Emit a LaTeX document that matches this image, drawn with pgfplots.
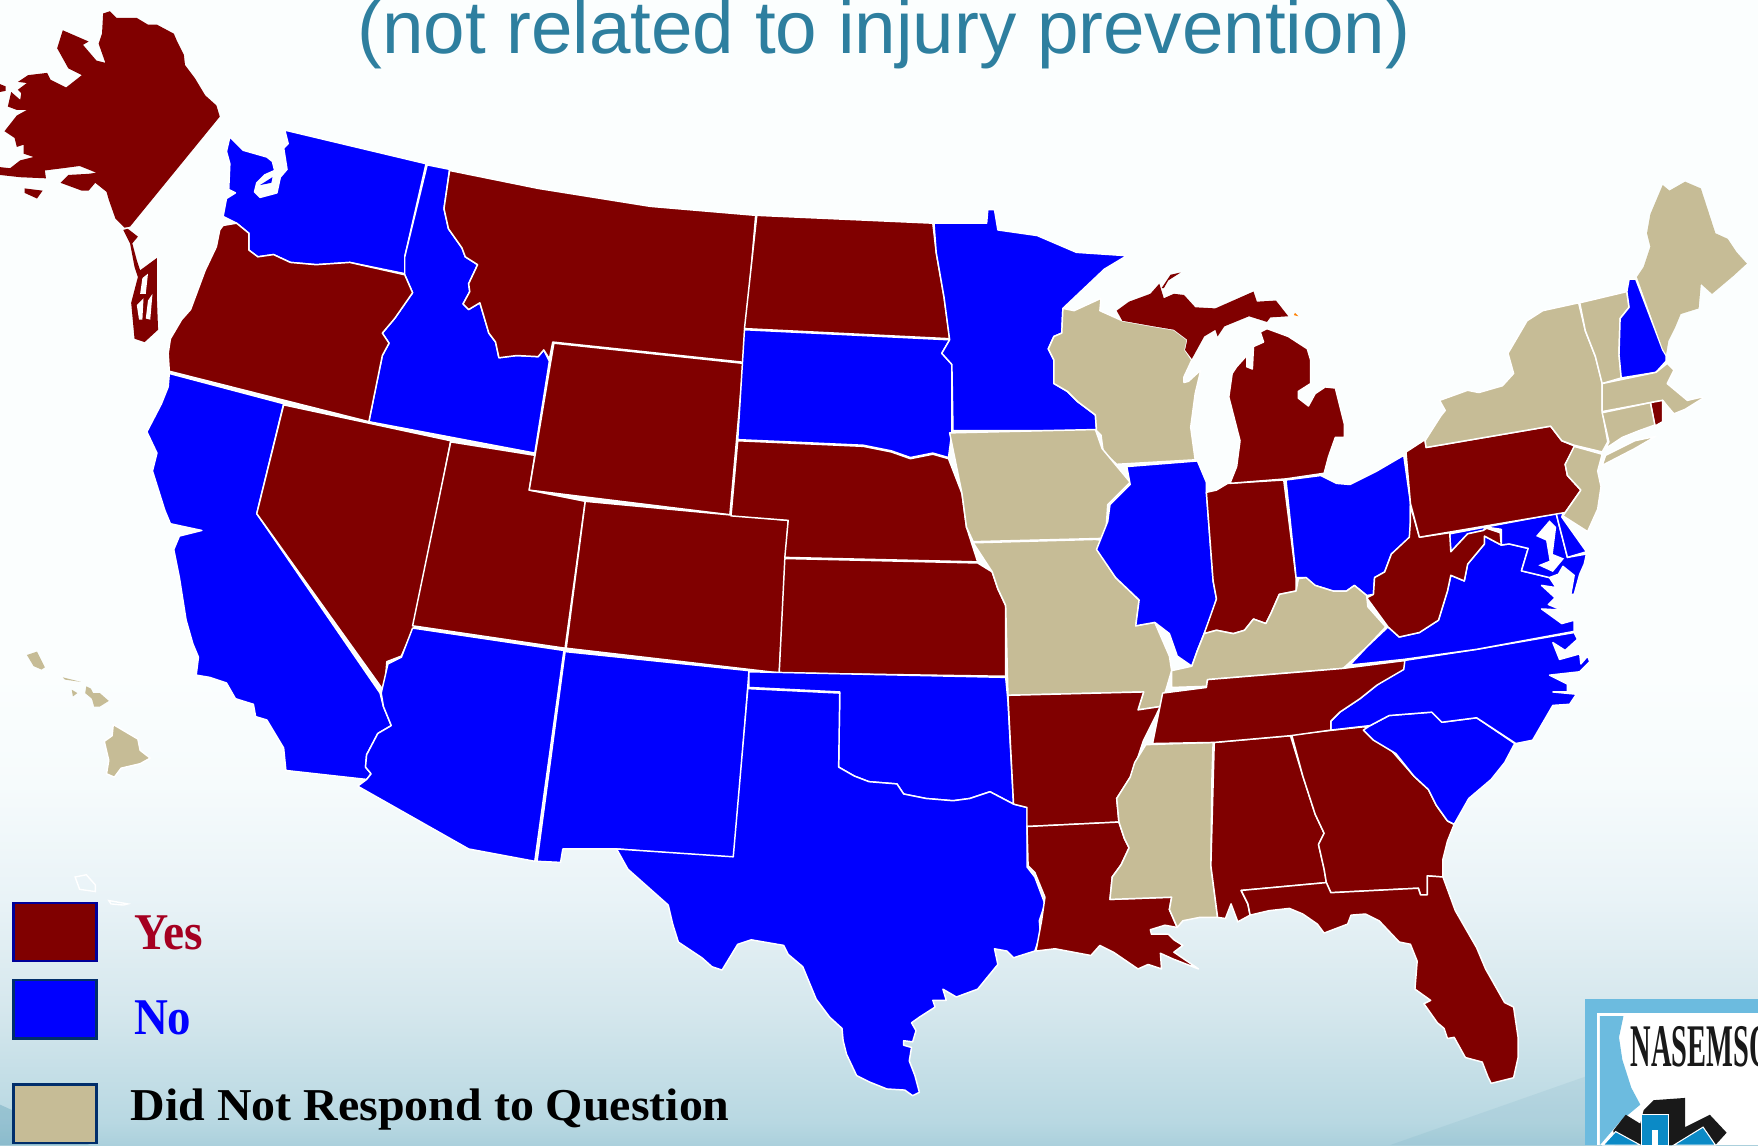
\documentclass[border=0pt]{standalone}
\usepackage{graphicx}
\usepackage{fontspec}
\setmainfont{Liberation Serif}
\newfontfamily\titlefont{Liberation Sans}
\usepackage{pgfplots}
\pgfplotsset{compat=1.18}
\definecolor{yescol}{HTML}{800000}
\definecolor{nocol}{HTML}{0000FF}
\definecolor{dnrcol}{HTML}{C6BC96}
\definecolor{titlecol}{HTML}{2E7F9F}
\definecolor{yestxt}{HTML}{A50021}
\definecolor{logoblue}{HTML}{6CBBDF}
\definecolor{logoblue2}{HTML}{0B8AC6}
\definecolor{bg0}{HTML}{ABD0DC}
\definecolor{bg1}{HTML}{B8D8E2}
\definecolor{bg2}{HTML}{D5E7ED}
\definecolor{bg3}{HTML}{E9F3F7}
\definecolor{bg4}{HTML}{F6FBFC}
\definecolor{bg5}{HTML}{FBFEFE}
\pgfdeclareverticalshading{slidebg}{100bp}{
  color(0bp)=(bg0);
  color(25bp)=(bg0); color(26bp)=(bg1); color(30.9bp)=(bg2);
  color(35.8bp)=(bg3); color(40.7bp)=(bg4); color(45.6bp)=(bg5);
  color(75bp)=(bg5); color(100bp)=(bg5)}
\pgfplotsset{
  yes/.style={fill=yescol,draw=white,line width=.42pt,line join=round},
  no/.style={fill=nocol,draw=white,line width=.42pt,line join=round},
  dnr/.style={fill=dnrcol,draw=white,line width=.42pt,line join=round},
  wat/.style={fill=white,draw=none},
}
\begin{document}
\begin{tikzpicture}
\path[use as bounding box] (0,0) rectangle (17.58cm,11.45cm);
\clip (0,0) rectangle (17.58cm,11.45cm);
\shade[shading=slidebg] (0,0) rectangle (17.58cm,11.45cm);
\begin{axis}[
  at={(0,0)},anchor=south west,
  scale only axis,width=17.58cm,height=11.45cm,
  xmin=0,xmax=1568,ymin=0,ymax=1021,y dir=reverse,
  hide axis,
]
% background swooshes
\addplot[fill=titlecol,draw=none,opacity=.25] coordinates {(0,985)(80,1021)(0,1021)} --cycle;
\addplot[fill=titlecol,draw=none,opacity=.08] coordinates {(1240,1021)(1414,960)(1414,1021)} --cycle;
% Alaska
\addplot[yes,draw=none] coordinates {(98,10)(104,16)(122,16)(132,22)(140,22)(155,30)(158,37)(164,49)(165,58)(174,70)(183,85)(193,94)(196,104)(116,202)(111,203)(103,195)(97,178)(95,171)(85,163)(79,170)(73,170)(54,163)(61,156)(79,155)(86,154)(71,148)(56,150)(40,152)(41,159)(18,158)(0,156)(0,149)(9,150)(18,143)(30,140)(21,137)(21,129)(15,131)(13,123)(4,117)(15,103)(24,98)(15,98)(7,95)(10,82)(18,89)(19,83)(16,80)(24,74)(16,73)(25,67)(42,65)(45,71)(59,78)(73,67)(61,61)(51,43)(56,27)(79,37)(74,40)(86,54)(94,56)(88,39)(91,30)(92,12)} --cycle;
\addplot[yes,draw=none] coordinates {(0,75)(5,77)(5,81)(0,82)} --cycle;
\addplot[yes,draw=none] coordinates {(22,168)(38,170)(33,177)(22,172)} --cycle;
\addplot[yes,draw=none] coordinates {(114,204)(123,211)(118,217)(122,232)(125,241)(140,230)(140,268)(141,294)(129,305)(120,302)(117,270)(123,247)(120,238)(116,217)(110,205)} --cycle;
\addplot[wat] coordinates {(127,248)(132,244)(130,262)(125,262)} --cycle;
\addplot[wat] coordinates {(122,272)(128,266)(127,285)(124,285)} --cycle;
\addplot[wat] coordinates {(132,268)(136,262)(134,285)(130,284)} --cycle;
% Hawaii
\addplot[dnr,draw=none] coordinates {(24,584)(33,581)(40,595)(37,597)(30,594)} --cycle;
\addplot[dnr,draw=none] coordinates {(56,604)(72,608)(58,606)} --cycle;
\addplot[dnr,draw=none] coordinates {(64,615)(69,618)(65,621)} --cycle;
\addplot[dnr,draw=none] coordinates {(77,612)(81,614)(83,618)(89,618)(97,625)(89,630)(84,630)(82,623)(76,618)} --cycle;
\addplot[dnr] coordinates {(101,646)(123,659)(125,669)(134,676)(125,681)(108,685)(102,693)(95,690)(97,678)(93,661)(100,656)} --cycle;
\addplot[fill=none,draw=white,line width=.4pt] coordinates {(67,782)(77,780)(85,789)(85,795)(71,793)} --cycle;
\addplot[fill=none,draw=white,line width=.4pt] coordinates {(97,803)(114,806)(110,807)(99,806)} --cycle;
% West
\addplot[no] coordinates {(205,122)(217,134)(238,140)(243,144)(245,152)(236,156)(229,163)(227,171)(232,176)(247,172)(250,158)(256,151)(253,132)(257,128)(254,116)(380,146)(361,229)(361,244)(312,234)(282,236)(259,234)(244,227)(230,229)(222,223)(222,208)(211,199)(199,193)(202,177)(210,172)(204,169)(205,146)(202,135)} --cycle;
\addplot[no,draw=none] coordinates {(243,158)(232,165)(242,163)} --cycle;
\addplot[no] coordinates {(381,147)(401,151)(396,186)(400,204)(412,221)(415,229)(426,236)(418,253)(419,260)(413,271)(418,276)(428,270)(436,297)(442,305)(445,319)(461,317)(480,318)(485,312)(490,322)(477,404)(329,376)(341,317)(347,306)(341,297)(352,284)(368,261)(361,245)(361,229)} --cycle;
\addplot[yes] coordinates {(199,201)(211,199)(222,208)(222,223)(230,229)(244,227)(259,234)(282,236)(312,234)(361,245)(368,261)(352,284)(341,297)(347,306)(341,317)(329,376)(151,331)(150,315)(152,302)(162,285)(170,276)(183,241)(193,220)(196,205)} --cycle;
\addplot[no] coordinates {(151,333)(253,360)(229,458)(339,618)(342,630)(349,647)(337,654)(327,673)(326,684)(331,690)(327,695)(255,687)(253,667)(238,642)(228,639)(226,628)(210,623)(202,609)(187,604)(175,602)(177,586)(172,574)(166,553)(160,515)(155,490)(160,478)(180,473)(152,467)(147,455)(136,420)(140,404)(131,385)(144,360)(150,345)} --cycle;
\addplot[yes] coordinates {(253,361)(402,393)(370,558)(358,585)(345,590)(343,617)(229,458)} --cycle;
\addplot[yes] coordinates {(402,394)(477,406)(472,437)(522,447)(504,578)(368,558)} --cycle;
\addplot[no] coordinates {(368,560)(503,580)(477,768)(418,757)(319,701)(327,695)(331,690)(326,684)(327,673)(337,654)(349,647)(342,630)(340,618)(346,592)(358,586)} --cycle;
\addplot[no] coordinates {(504,581)(668,598)(667,612)(655,765)(550,757)(502,757)(500,769)(479,768)} --cycle;
\addplot[yes] coordinates {(401,152)(480,168)(580,184)(674,192)(663,323)(493,305)(490,320)(485,312)(480,318)(461,317)(445,319)(442,305)(436,297)(428,270)(418,276)(413,271)(419,260)(418,253)(426,236)(415,229)(412,221)(400,204)(396,186)} --cycle;
\addplot[yes] coordinates {(494,306)(663,324)(651,459)(472,437)} --cycle;
\addplot[yes] coordinates {(522,447)(703,464)(695,600)(505,578)} --cycle;
% Plains
\addplot[yes] coordinates {(675,192)(832,199)(835,225)(842,265)(847,302)(664,293)} --cycle;
\addplot[no] coordinates {(664,294)(847,303)(840,315)(849,325)(849,385)(846,408)(832,404)(812,408)(795,402)(770,397)(658,392)} --cycle;
\addplot[yes] coordinates {(658,393)(770,398)(795,403)(812,409)(832,405)(846,409)(858,440)(862,470)(872,501)(700,497)(703,464)(652,460)} --cycle;
\addplot[yes] coordinates {(700,498)(872,502)(885,510)(890,525)(897,540)(897,603)(695,600)} --cycle;
\addplot[no] coordinates {(668,599)(897,604)(899,625)(904,717)(883,706)(865,712)(850,714)(826,712)(806,708)(800,699)(775,697)(762,692)(748,684)(749,617)(668,613)} --cycle;
\addplot[no] coordinates {(667,614)(749,618)(748,684)(762,692)(775,697)(800,699)(806,708)(826,712)(850,714)(865,712)(883,706)(904,717)(916,720)(916,773)(923,782)(932,806)(927,821)(928,833)(923,848)(904,854)(898,848)(887,846)(890,860)(881,871)(872,882)(853,889)(841,882)(844,892)(832,892)(834,898)(820,907)(813,912)(817,919)(814,929)(806,928)(806,932)(813,934)(811,946)(816,959)(820,974)(814,977)(807,972)(791,971)(776,965)(764,959)(755,940)(752,928)(751,917)(740,907)(728,891)(716,862)(703,851)(699,843)(670,838)(658,842)(644,865)(635,862)(626,854)(605,840)(600,824)(596,807)(578,791)(560,775)(550,757)(654,764)} --cycle;
% Upper midwest
\addplot[no] coordinates {(833,199)(880,199)(881,187)(887,187)(890,205)(925,210)(960,225)(1005,228)(985,240)(948,275)(947,297)(940,300)(935,311)(940,321)(940,342)(952,349)(961,358)(977,370)(978,384)(850,384)(849,325)(840,315)(847,303)(842,265)(835,225)} --cycle;
\addplot[dnr] coordinates {(948,275)(958,277)(982,266)(981,277)(1001,286)(1029,291)(1047,294)(1059,303)(1057,312)(1063,321)(1056,336)(1056,341)(1060,340)(1071,330)(1066,351)(1062,381)(1066,410)(996,414)(984,403)(982,388)(978,384)(977,370)(961,358)(952,349)(940,342)(940,321)(935,311)(940,300)(947,297)} --cycle;
\addplot[dnr] coordinates {(847,386)(977,383)(983,400)(1008,430)(988,450)(986,480)(868,483)(862,470)(858,440)} --cycle;
\addplot[dnr] coordinates {(868,484)(977,481)(985,482)(980,492)(995,515)(1016,535)(1013,558)(1030,555)(1043,585)(1045,598)(1040,615)(1035,630)(1015,633)(1020,617)(899,620)(897,540)(890,525)(885,510)} --cycle;
\addplot[no] coordinates {(1005,416)(1068,411)(1076,430)(1076,439)(1082,518)(1085,534)(1080,550)(1074,565)(1068,580)(1063,594)(1050,585)(1043,565)(1030,555)(1013,558)(1016,535)(995,515)(978,490)(988,465)(990,450)(1008,432)} --cycle;
\addplot[yes] coordinates {(1076,439)(1085,437)(1095,431)(1145,428)(1156,515)(1156,527)(1141,530)(1134,546)(1129,556)(1118,552)(1110,562)(1100,565)(1085,562)(1074,565)(1085,534)(1082,518)} --cycle;
\addplot[no] coordinates {(1147,428)(1178,424)(1192,431)(1204,432)(1228,420)(1252,406)(1258,448)(1258,479)(1241,494)(1235,510)(1226,515)(1225,530)(1219,531)(1208,522)(1201,527)(1189,527)(1173,522)(1164,515)(1156,515)} --cycle;
\addplot[yes] coordinates {(1097,431)(1147,427)(1181,422)(1185,407)(1191,390)(1199,390)(1199,378)(1191,346)(1182,345)(1173,351)(1167,362)(1158,355)(1158,349)(1169,342)(1169,321)(1166,311)(1149,300)(1130,293)(1124,296)(1127,305)(1118,309)(1117,329)(1112,327)(1112,317)(1103,327)(1099,333)(1096,354)(1106,393)(1103,416)} --cycle;
\addplot[yes,draw=none] coordinates {(996,277)(1007,269)(1026,262)(1034,253)(1038,266)(1047,262)(1056,263)(1066,274)(1084,275)(1118,260)(1121,269)(1138,268)(1149,282)(1133,283)(1130,287)(1114,282)(1092,291)(1086,300)(1084,294)(1074,300)(1063,320)(1057,312)(1059,303)(1047,294)(1029,291)(1001,286)} --cycle;
\addplot[yes,draw=none] coordinates {(1036,257)(1044,245)(1053,243)(1042,250)(1038,257)} --cycle;
\addplot[fill=orange,draw=none] coordinates {(1154,281)(1158,282)(1155,279)} --cycle;
% South
\addplot[yes] coordinates {(899,620)(1020,617)(1015,633)(1035,630)(1020,660)(1010,690)(996,712)(998,733)(916,737)(916,720)(904,717)} --cycle;
\addplot[yes] coordinates {(916,737)(998,733)(1003,748)(1007,756)(1000,771)(992,782)(990,802)(1045,800)(1043,811)(1050,827)(1039,825)(1026,829)(1027,833)(1042,833)(1047,838)(1055,843)(1047,849)(1069,864)(1046,855)(1035,850)(1036,864)(1024,860)(1015,864)(993,849)(981,843)(973,852)(941,846)(924,848)(929,821)(932,800)(923,778)(917,772)} --cycle;
\addplot[dnr] coordinates {(1022,664)(1082,662)(1081,692)(1080,772)(1086,818)(1070,818)(1055,821)(1050,827)(1043,811)(1045,800)(990,802)(992,782)(1000,771)(1007,756)(1003,748)(998,733)(996,712)(1008,693)(1012,680)} --cycle;
\addplot[yes] coordinates {(1083,662)(1151,656)(1162,692)(1173,726)(1181,743)(1176,753)(1181,775)(1183,787)(1107,794)(1113,806)(1115,816)(1104,822)(1098,806)(1093,819)(1086,818)(1080,772)} --cycle;
\addplot[yes] coordinates {(1152,655)(1217,648)(1240,668)(1261,692)(1274,704)(1281,718)(1291,732)(1297,735)(1291,750)(1287,766)(1287,782)(1273,781)(1273,798)(1267,798)(1265,792)(1187,796)(1183,787)(1181,775)(1176,753)(1181,743)(1173,726)(1162,692)} --cycle;
\addplot[yes] coordinates {(1107,794)(1183,787)(1187,796)(1265,792)(1267,798)(1273,798)(1273,781)(1287,782)(1298,812)(1317,845)(1325,864)(1342,894)(1350,898)(1354,925)(1354,943)(1350,961)(1330,966)(1327,960)(1322,947)(1307,943)(1297,925)(1291,926)(1288,917)(1282,912)(1270,895)(1276,892)(1262,882)(1264,857)(1258,842)(1248,840)(1230,821)(1218,815)(1205,816)(1202,824)(1181,832)(1175,824)(1162,815)(1150,810)(1132,812)(1115,816)(1113,806)} --cycle;
\addplot[no] coordinates {(1216,651)(1222,647)(1239,638)(1277,635)(1286,644)(1317,640)(1351,663)(1342,680)(1330,695)(1310,712)(1297,735)(1291,732)(1281,718)(1274,704)(1261,692)(1245,672)(1225,660)} --cycle;
\addplot[no] coordinates {(1187,651)(1187,643)(1195,635)(1213,623)(1228,611)(1245,598)(1252,589)(1317,579)(1404,564)(1407,570)(1396,580)(1385,573)(1391,588)(1409,583)(1410,592)(1416,585)(1418,590)(1409,599)(1382,602)(1398,610)(1398,617)(1385,617)(1406,619)(1400,628)(1385,629)(1367,660)(1352,663)(1317,640)(1286,644)(1277,635)(1239,638)(1222,647)} --cycle;
\addplot[dnr] coordinates {(1074,565)(1085,562)(1100,565)(1110,562)(1118,552)(1129,556)(1134,546)(1141,530)(1156,527)(1158,516)(1165,515)(1173,522)(1189,527)(1201,527)(1208,522)(1219,531)(1220,541)(1236,559)(1219,577)(1198,596)(1077,606)(1076,612)(1045,613)(1045,598)(1063,594)(1068,580)} --cycle;
\addplot[yes] coordinates {(1028,663)(1037,618)(1076,613)(1077,606)(1198,596)(1253,589)(1252,597)(1228,611)(1213,623)(1195,635)(1187,643)(1187,651)(1151,656)(1083,662)} --cycle;
% Mid-Atlantic
\addplot[no] coordinates {(1204,593)(1252,588)(1317,579)(1404,563)(1404,553)(1393,556)(1375,543)(1393,544)(1381,539)(1387,533)(1375,522)(1388,524)(1382,515)(1357,509)(1363,489)(1346,485)(1339,486)(1324,478)(1324,485)(1309,503)(1306,518)(1294,513)(1291,527)(1283,553)(1266,564)(1248,568)(1238,559)(1219,577)} --cycle;
\addplot[no] coordinates {(1293,476)(1388,458)(1398,497)(1415,494)(1413,503)(1409,512)(1404,530)(1401,530)(1404,513)(1394,505)(1390,512)(1382,515)(1357,509)(1363,489)(1346,485)(1339,486)(1339,472)(1325,470)(1323,473)(1309,476)(1294,492)} --cycle;
\addplot[wat] coordinates {(1382,464)(1370,478)(1379,482)(1382,500)(1372,504)(1385,510)(1395,498)(1385,494)(1388,470)} --cycle;
\addplot[no] coordinates {(1388,453)(1396,451)(1393,461)(1415,492)(1398,497)(1388,458)} --cycle;
\addplot[yes] coordinates {(1258,451)(1266,479)(1293,475)(1294,492)(1309,476)(1323,473)(1326,471)(1338,475)(1339,486)(1324,478)(1324,485)(1309,503)(1306,518)(1294,513)(1291,527)(1283,553)(1266,564)(1248,568)(1238,559)(1219,533)(1225,530)(1226,515)(1235,510)(1241,494)(1257,479)(1258,464)} --cycle;
\addplot[yes] coordinates {(1254,403)(1271,392)(1272,399)(1383,380)(1393,393)(1405,398)(1396,414)(1398,424)(1410,437)(1396,457)(1266,479)(1258,449)} --cycle;
\addplot[dnr] coordinates {(1404,398)(1429,405)(1425,420)(1428,434)(1425,454)(1416,474)(1394,460)(1410,437)(1398,424)(1396,414)} --cycle;
% Northeast
\addplot[dnr] coordinates {(1271,393)(1285,371)(1289,366)(1284,357)(1309,348)(1319,350)(1340,344)(1350,333)(1345,315)(1362,286)(1376,277)(1408,270)(1414,295)(1423,318)(1429,342)(1429,366)(1434,394)(1429,403)(1404,397)(1393,393)(1383,380)(1272,399)} --cycle;
\addplot[dnr] coordinates {(1432,406)(1458,393)(1477,389)(1458,400)(1429,415)} --cycle;
\addplot[dnr] coordinates {(1409,270)(1451,260)(1453,274)(1445,284)(1444,316)(1446,337)(1429,342)(1423,318)(1414,295)} --cycle;
\addplot[no] coordinates {(1453,249)(1459,249)(1483,312)(1486,317)(1486,322)(1477,332)(1446,337)(1444,316)(1445,284)(1453,274)(1451,260)} --cycle;
\addplot[dnr,draw=none] coordinates {(1460,247)(1466,238)(1472,220)(1469,208)(1472,191)(1483,165)(1489,170)(1503,162)(1517,168)(1530,208)(1541,213)(1549,225)(1558,235)(1546,246)(1527,262)(1517,253)(1515,275)(1499,280)(1494,292)(1488,304)(1486,316)(1483,311)} --cycle;
\addplot[dnr] coordinates {(1429,342)(1477,332)(1487,324)(1493,330)(1487,342)(1505,357)(1518,354)(1519,355)(1503,365)(1493,369)(1487,362)(1483,357)(1472,359)(1429,367)} --cycle;
\addplot[yes] coordinates {(1472,359)(1483,357)(1483,376)(1476,380)} --cycle;
\addplot[dnr] coordinates {(1429,368)(1472,359)(1476,379)(1462,384)(1447,390)(1432,400)(1435,394)} --cycle;
% legend
\addplot[fill=yescol,draw=blue!60!black,line width=.7pt] coordinates {(12,805)(86,805)(86,857)(12,857)} --cycle;
\addplot[fill=nocol,draw=blue!40!teal!60!black,line width=.7pt] coordinates {(12,874)(86,874)(86,926)(12,926)} --cycle;
\addplot[fill=dnrcol,draw=blue!40!teal!60!black,line width=.7pt] coordinates {(12,967)(86,967)(86,1019)(12,1019)} --cycle;
\node[anchor=base west,inner sep=0,text=yestxt] at (axis cs:119,847) {\resizebox{19.5pt}{9.6pt}{\bfseries Yes}};
\node[anchor=base west,inner sep=0,text=nocol] at (axis cs:119,922) {\resizebox{16.3pt}{9.6pt}{\bfseries No}};
\node[anchor=base west,inner sep=0,text=black] at (axis cs:116,999) {\resizebox{170.4pt}{9pt}{\bfseries Did Not Respond to Question}};
% title
\node[anchor=base west,inner sep=0,text=titlecol] at (axis cs:318,48) {\resizebox{299.6pt}{!}{\titlefont (not related to injury prevention)}};
% logo
\addplot[fill=logoblue,draw=none] coordinates {(1414,891)(1568,891)(1568,1021)(1414,1021)} --cycle;
\addplot[fill=white,draw=none] coordinates {(1424,903)(1568,903)(1568,1021)(1424,1021)} --cycle;
\addplot[fill=logoblue,draw=none] coordinates {(1427,906)(1448,906)(1444,925)(1447,945)(1455,970)(1463,985)(1445,1000)(1427,1021)} --cycle;
\addplot[fill=black!90,draw=none] coordinates {(1466,990)(1475,981)(1503,979)(1503,1005)(1525,994)(1540,1010)(1530,1021)(1440,1021)(1439,1008)(1450,994)(1463,1002)} --cycle;
\addplot[fill=logoblue2,draw=white,line width=.3pt] coordinates {(1464,994)(1488,994)(1488,1021)(1464,1021)} --cycle;
\addplot[fill=logoblue2,draw=white,line width=.3pt] coordinates {(1430,1021)(1441,1009)(1463,1021)} --cycle;
\addplot[fill=logoblue2,draw=white,line width=.3pt] coordinates {(1493,1021)(1519,1005)(1530,1021)} --cycle;
\addplot[fill=white,draw=none] coordinates {(1473,1008)(1479,1008)(1479,1021)(1473,1021)} --cycle;
\node[anchor=base west,inner sep=0,text=black!90] at (axis cs:1454,951) {\resizebox{40pt}{11.4pt}{\bfseries NASEMSO}};
\end{axis}
\end{tikzpicture}
\end{document}
